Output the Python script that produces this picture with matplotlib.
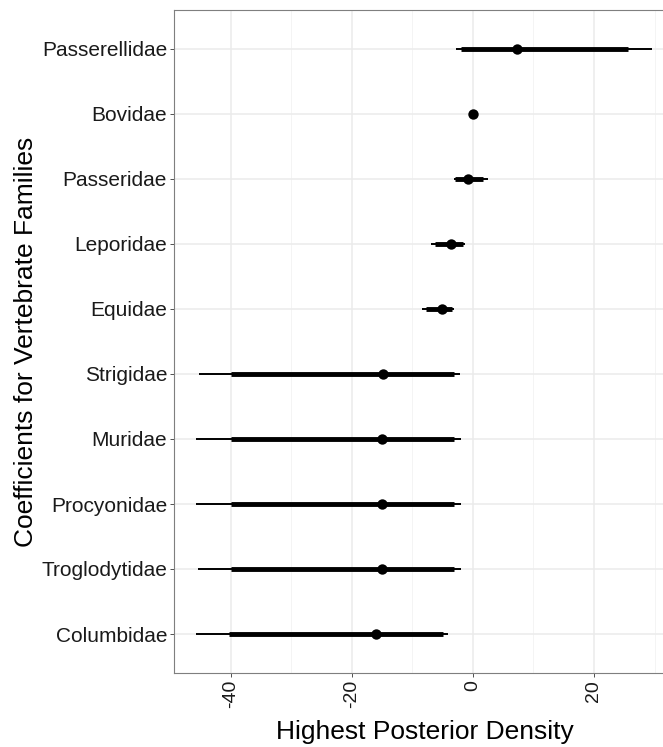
import matplotlib.pyplot as plt
import numpy as np

plt.rcParams['font.family'] = ['Liberation Sans', 'DejaVu Sans']

families = ["Passerellidae", "Bovidae", "Passeridae", "Leporidae", "Equidae",
            "Strigidae", "Muridae", "Procyonidae", "Troglodytidae", "Columbidae"]
median = [7.3, 0.0, -0.9, -3.6, -5.1, -14.9, -15.0, -15.0, -15.0, -16.1]
inner_lo = [-1.9, -0.1, -2.9, -6.3, -7.7, -40.0, -40.0, -40.0, -40.0, -40.3]
inner_hi = [25.6, 0.1, 1.7, -1.6, -3.4, -3.1, -3.1, -3.1, -3.1, -4.9]
outer_lo = [-2.8, -0.2, -3.2, -6.9, -8.5, -45.2, -45.7, -45.7, -45.4, -45.7]
outer_hi = [29.6, 0.2, 2.5, -1.3, -3.1, -2.1, -2.0, -2.0, -2.0, -4.2]
xticks = [-40, -20, 0, 20]

W, H = 663, 747
fig = plt.figure(figsize=(W / 100, H / 100), dpi=100)
left, right, top, bottom = 174, 666, 10, 673
ax = fig.add_axes([left / W, 1 - bottom / H, (right - left) / W, (bottom - top) / H])

n = len(families)
ypos = np.arange(n)[::-1]

ax.hlines(ypos, outer_lo, outer_hi, color='black', linewidth=1.4, zorder=3)
ax.hlines(ypos, inner_lo, inner_hi, color='black', linewidth=3.5, zorder=4)
ax.scatter(median, ypos, s=56, color='black', zorder=5, linewidths=0)

ax.set_xlim(-49.4, 31.9)
ax.set_ylim(-0.6, n - 0.4)
ax.set_xticks(xticks)
ax.set_xticklabels([str(t) for t in xticks], rotation=90, fontsize=14)
ax.set_xticks([-30, -10, 10, 30], minor=True)
ax.set_yticks(ypos)
ax.set_yticklabels(families, fontsize=15)

ax.grid(True, which='major', color='#EBEBEB', linewidth=1.1, zorder=0)
ax.grid(True, which='minor', axis='x', color='#F2F2F2', linewidth=0.6, zorder=0)
ax.set_axisbelow(True)
ax.tick_params(axis='both', which='major', length=3, width=0.6, color='#333333',
               labelcolor='#1A1A1A', pad=2)
ax.tick_params(axis='x', which='minor', length=0)
for s in ax.spines.values():
    s.set_color('#7F7F7F')
    s.set_linewidth(0.8)

# x title centred on the (partly cropped) panel, as in the original
fig.text(424.5 / W, (H - 739) / H, "Highest Posterior Density", fontsize=19,
         ha='center', va='baseline', color='black')
ax.set_ylabel("Coefficients for Vertebrate Families", fontsize=19, labelpad=2)

fig.savefig("out.png", dpi=100)
